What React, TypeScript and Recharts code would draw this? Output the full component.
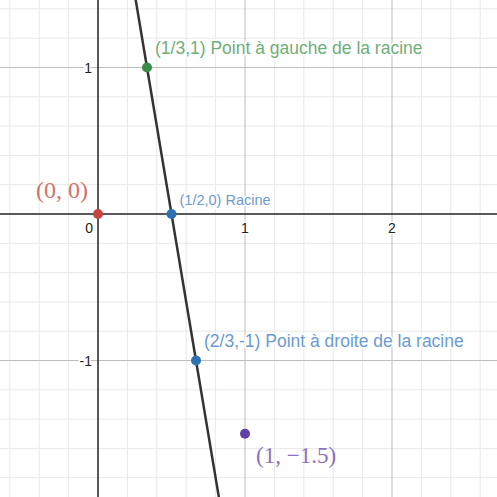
import { ComposedChart, XAxis, YAxis, Line, Scatter, ReferenceLine } from "recharts";

const xMinor = [-0.6, -0.4, -0.2, 0.2, 0.4, 0.6, 0.8, 1.2, 1.4, 1.6, 1.8, 2.2, 2.4, 2.6];
const yMinor = [-1.8, -1.6, -1.4, -1.2, -0.8, -0.6, -0.4, -0.2, 0.2, 0.4, 0.6, 0.8, 1.2, 1.4];
const xMajor = [1, 2];
const yMajor = [-1, 1];

// y = -6x + 3, ends outside the view
const lineData = [
  { x: 0.2, y: 1.8 },
  { x: 0.9, y: -2.4 },
];

const points = [
  { x: 0, y: 0, color: "#c74440" },
  { x: 1 / 3, y: 1, color: "#388c46" },
  { x: 1 / 2, y: 0, color: "#2d70b3" },
  { x: 2 / 3, y: -1, color: "#2d70b3" },
  { x: 1, y: -1.5, color: "#6042a6" },
];

const pointLabels = [
  { x: 0, y: 0, text: "(0, 0)", kind: "math", color: "#d2716d" },
  { x: 1 / 3, y: 1, text: "(1/3,1) Point à gauche de la racine", kind: "big", color: "#6fae7a" },
  { x: 1 / 2, y: 0, text: "(1/2,0) Racine", kind: "small", color: "#6b9bd1" },
  { x: 2 / 3, y: -1, text: "(2/3,-1) Point à droite de la racine", kind: "big", color: "#6b9bd1" },
  { x: 1, y: -1.5, text: "(1, −1.5)", kind: "math", color: "#8a72c2" },
];

const tickLabels = [
  { x: 0, y: 0, text: "0", axis: "origin" },
  { x: 1, y: 0, text: "1", axis: "x" },
  { x: 2, y: 0, text: "2", axis: "x" },
  { x: 0, y: 1, text: "1", axis: "y" },
  { x: 0, y: -1, text: "-1", axis: "y" },
];

const sans = "Arial, 'Liberation Sans', sans-serif";
const serif = "'Liberation Serif', 'Times New Roman', serif";

function LabelShape(props: any) {
  const { cx, cy, payload } = props;
  const p = payload;
  if (p.kind === "math") {
    const left = p.x === 0;
    return (
      <text
        x={left ? cx - 10 : cx + 11}
        y={left ? cy - 16 : cy + 29}
        textAnchor={left ? "end" : "start"}
        fontFamily={serif}
        fontSize={left ? 24 : 23}
        fill={p.color}
      >
        {p.text}
      </text>
    );
  }
  const small = p.kind === "small";
  return (
    <text
      x={cx + 8}
      y={cy + (small ? -9 : -14)}
      fontFamily={sans}
      fontSize={small ? 14.5 : 17.5}
      fill={p.color}
      stroke="#fff"
      strokeWidth={3}
      paintOrder="stroke"
    >
      {p.text}
    </text>
  );
}

function TickShape(props: any) {
  const { cx, cy, payload } = props;
  let x = cx;
  let y = cy;
  let anchor: "start" | "middle" | "end" = "middle";
  if (payload.axis === "x") {
    y = cy + 19;
  } else if (payload.axis === "y") {
    x = cx - 6;
    y = cy + 5;
    anchor = "end";
  } else {
    x = cx - 5;
    y = cy + 19;
    anchor = "end";
  }
  return (
    <text
      x={x}
      y={y}
      textAnchor={anchor}
      fontFamily={sans}
      fontSize={14}
      fill="#222"
      stroke="#fff"
      strokeWidth={3}
      paintOrder="stroke"
    >
      {payload.text}
    </text>
  );
}

function DotShape(props: any) {
  const { cx, cy, payload } = props;
  return <circle cx={cx} cy={cy} r={5} fill={payload.color} />;
}

export default function App() {
  return (
    <div style={{ position: "fixed", left: 0, top: 0, width: 497, height: 497, background: "#fff" }}>
      <ComposedChart width={497} height={497} margin={{ top: 0, right: 0, bottom: 0, left: 0 }}>
        <XAxis type="number" dataKey="x" domain={[-0.6667, 2.7143]} allowDataOverflow hide />
        <YAxis type="number" dataKey="y" domain={[-1.9317, 1.4608]} allowDataOverflow hide />
        {xMinor.map((v) => (
          <ReferenceLine key={"xm" + v} x={v} stroke="#e8e8e8" strokeWidth={1} />
        ))}
        {yMinor.map((v) => (
          <ReferenceLine key={"ym" + v} y={v} stroke="#e8e8e8" strokeWidth={1} />
        ))}
        {xMajor.map((v) => (
          <ReferenceLine key={"xM" + v} x={v} stroke="#bdbdbd" strokeWidth={1} />
        ))}
        {yMajor.map((v) => (
          <ReferenceLine key={"yM" + v} y={v} stroke="#bdbdbd" strokeWidth={1} />
        ))}
        <ReferenceLine x={0} stroke="#222" strokeWidth={1.5} />
        <ReferenceLine y={0} stroke="#222" strokeWidth={1.5} />
        <Scatter data={tickLabels} shape={TickShape} isAnimationActive={false} />
        <Line
          data={lineData}
          dataKey="y"
          type="linear"
          stroke="#333"
          strokeWidth={2.5}
          dot={false}
          activeDot={false}
          isAnimationActive={false}
        />
        <Scatter data={points} shape={DotShape} isAnimationActive={false} />
        <Scatter data={pointLabels} shape={LabelShape} isAnimationActive={false} />
      </ComposedChart>
    </div>
  );
}
